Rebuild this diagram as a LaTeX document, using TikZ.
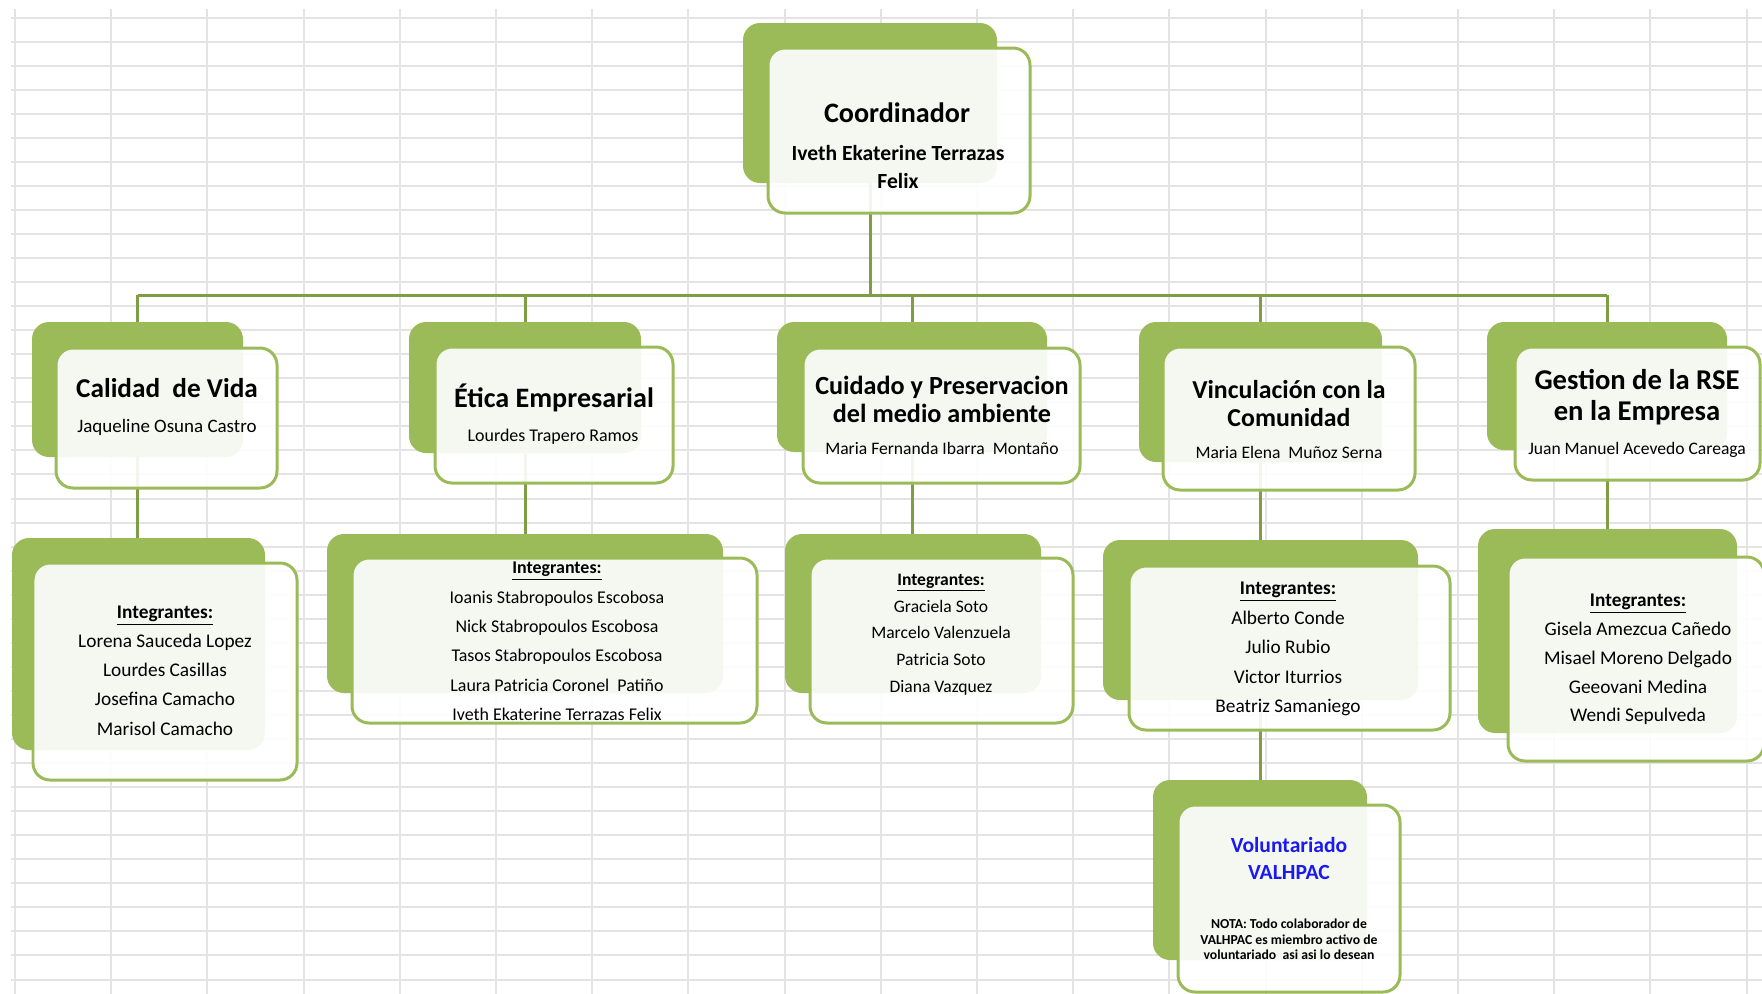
\documentclass[tikz,border=0pt]{standalone}
\usepackage{fontspec}
\setmainfont{Carlito}
\usetikzlibrary{fit}
\definecolor{bk}{HTML}{9BBB59}
\definecolor{cn}{HTML}{7E9D45}
\definecolor{gridc}{HTML}{E3E3E3}
\definecolor{vblue}{HTML}{1A1AF0}
\tikzset{
  gridline/.style={draw=gridc, line width=0.04cm},
  conn/.style={draw=cn, line width=0.06cm},
  backbox/.style={fill=bk, rounded corners=0.34cm, inner sep=0pt, draw=none},
  frontbox/.style={fill=white, fill opacity=0.91, draw=bk, line width=0.06cm, rounded corners=0.34cm, inner sep=0pt},
  txt/.style={align=center, inner sep=0pt, text=black},
}
\newcommand{\fs}[2]{\fontsize{#1}{#2}\selectfont}
\begin{document}
\begin{tikzpicture}[x=0.02cm, y=-0.02cm]
\useasboundingbox (0,0) rectangle (1762,994);
% grid
\foreach \i in {0,...,40} \draw[gridline] (11,17.5+24.05*\i) -- (1762,17.5+24.05*\i);
\foreach \i in {0,...,18} \draw[gridline] (15+96.2*\i,9) -- (15+96.2*\i,994);

\coordinate (bar) at (870,295);

% position frames (back boxes)
\node[inner sep=0pt, fit={(743,23) (997,183)}] (cbpos) {};
\node[inner sep=0pt, fit={(32,322) (243,457)}] (l2apos) {};
\node[inner sep=0pt, fit={(409,322) (641,453)}] (l2bpos) {};
\node[inner sep=0pt, fit={(777,322) (1047,452)}] (l2cpos) {};
\node[inner sep=0pt, fit={(1139,322) (1382,462)}] (l2dpos) {};
\node[inner sep=0pt, fit={(1487,322) (1727,450)}] (l2epos) {};
\node[inner sep=0pt, fit={(12,538) (265,750)}] (l3apos) {};
\node[inner sep=0pt, fit={(327,534) (723,693)}] (l3bpos) {};
\node[inner sep=0pt, fit={(785,534) (1041,693)}] (l3cpos) {};
\node[inner sep=0pt, fit={(1103,540) (1418,700)}] (l3dpos) {};
\node[inner sep=0pt, fit={(1478,529) (1737,733)}] (l3epos) {};
\node[inner sep=0pt, fit={(1153,780) (1367,960)}] (l4pos) {};

% connectors (drawn first, boxes on top)
\draw[conn] (cbpos.center) -- (cbpos.center |- bar);
\draw[conn] (bar -| l2apos.center) -- (bar -| l2epos.center);
\foreach \n in {l2apos,l2bpos,l2cpos,l2dpos,l2epos}
  \draw[conn] (bar -| \n.center) -- (\n.center);
\draw[conn] (l2apos.center) -- (l2apos.center |- l3apos.center);
\draw[conn] (l2bpos.center) -- (l2bpos.center |- l3bpos.center);
\draw[conn] (l2cpos.center) -- (l2cpos.center |- l3cpos.center);
\draw[conn] (l2dpos.center) -- (l2dpos.center |- l3dpos.center);
\draw[conn] (l2epos.center) -- (l2epos.center |- l3epos.center);
\draw[conn] (l3dpos.center) -- (l3dpos.center |- l4pos.center);

% back boxes
\node[backbox, fit={(743,23) (997,183)}] (cb) {};
\node[backbox, fit={(32,322) (243,457)}] (l2a) {};
\node[backbox, fit={(409,322) (641,453)}] (l2b) {};
\node[backbox, fit={(777,322) (1047,452)}] (l2c) {};
\node[backbox, fit={(1139,322) (1382,462)}] (l2d) {};
\node[backbox, fit={(1487,322) (1727,450)}] (l2e) {};
\node[backbox, fit={(12,538) (265,750)}] (l3a) {};
\node[backbox, fit={(327,534) (723,693)}] (l3b) {};
\node[backbox, fit={(785,534) (1041,693)}] (l3c) {};
\node[backbox, fit={(1103,540) (1418,700)}] (l3d) {};
\node[backbox, fit={(1478,529) (1737,733)}] (l3e) {};
\node[backbox, fit={(1153,780) (1367,960)}] (l4) {};

% front boxes
\node[frontbox, fit={(768,48) (1030,213)}] (cf) {};
\node[frontbox, fit={(56,348) (277,488)}] (f2a) {};
\node[frontbox, fit={(435,347) (673,483)}] (f2b) {};
\node[frontbox, fit={(803,348) (1080,483)}] (f2c) {};
\node[frontbox, fit={(1163,347) (1415,490)}] (f2d) {};
\node[frontbox, fit={(1515,347) (1760,480)}] (f2e) {};
\node[frontbox, fit={(33,563) (297,780)}] (f3a) {};
\node[frontbox, fit={(352,558) (757,723)}] (f3b) {};
\node[frontbox, fit={(810,558) (1073,723)}] (f3c) {};
\node[frontbox, fit={(1129,566) (1450,730)}] (f3d) {};
\node[frontbox, fit={(1508,557) (1764,761)}] (f3e) {};
\node[frontbox, fit={(1178,805) (1400,992)}] (f4) {};

% texts
\node[txt, font=\fs{16}{19}\bfseries] (tc) at (897,113) {Coordinador};
\node[txt, font=\fs{12.3}{15.4}\bfseries] (nc) at (898,167) {Iveth Ekaterine Terrazas\\Felix};

\node[txt, font=\fs{15.5}{18}\bfseries] (t2a) at (167,388) {Calidad\ \ de Vida};
\node[txt, font=\fs{10.8}{13}] (n2a) at (167,427) {Jaqueline Osuna Castro};

\node[txt, font=\fs{16}{19}\bfseries] (t2b) at (554,398) {Ética Empresarial};
\node[txt, font=\fs{10.2}{12}] (n2b) at (553,437) {Lourdes Trapero Ramos};

\node[txt, font=\fs{14.9}{15.9}\bfseries] (t2c) at (942,399) {Cuidado y Preservacion\\del medio ambiente};
\node[txt, font=\fs{10}{12}] (n2c) at (942,448) {Maria Fernanda Ibarra\ \ Montaño};

\node[txt, font=\fs{14.7}{15.4}\bfseries] (t2d) at (1289,403.5) {Vinculación con la\\Comunidad};
\node[txt, font=\fs{10}{12}] (n2d) at (1289,452) {Maria Elena\ \ Muñoz Serna};

\node[txt, font=\fs{16.3}{17.6}\bfseries] (t2e) at (1637,397.5) {Gestion de la RSE\\en la Empresa};
\node[txt, font=\fs{10}{12}] (n2e) at (1637,450) {Juan Manuel Acevedo Careaga};

\node[txt, font=\fs{11}{16.6}] (m3a) at (165,670.5) {\textbf{\underline{Integrantes:}}\\Lorena Sauceda Lopez\\Lourdes Casillas\\Josefina Camacho\\Marisol Camacho};
\node[txt, font=\fs{10.2}{16.7}] (m3b) at (557,641.5) {\textbf{\underline{Integrantes:}}\\Ioanis Stabropoulos Escobosa\\Nick Stabropoulos Escobosa\\Tasos Stabropoulos Escobosa\\Laura Patricia Coronel\ \ Patiño\\Iveth Ekaterine Terrazas Felix};
\node[txt, font=\fs{10}{15.2}] (m3c) at (941,634.5) {\textbf{\underline{Integrantes:}}\\Graciela Soto\\Marcelo Valenzuela\\Patricia Soto\\Diana Vazquez};
\node[txt, font=\fs{11}{16.8}] (m3d) at (1288,649) {\textbf{\underline{Integrantes:}}\\Alberto Conde\\Julio Rubio\\Victor Iturrios\\Beatriz Samaniego};
\node[txt, font=\fs{11}{16.4}] (m3e) at (1638,659.5) {\textbf{\underline{Integrantes:}}\\Gisela Amezcua Cañedo\\Misael Moreno Delgado\\Geeovani Medina\\Wendi Sepulveda};

\node[txt, font=\fs{12.3}{15.4}\bfseries, text=vblue] (t4) at (1289,858.5) {Voluntariado\\VALHPAC};
\node[txt, font=\fs{7.8}{8.8}\bfseries] (n4) at (1289,939.5) {NOTA: Todo colaborador de\\VALHPAC es miembro activo de\\voluntariado\ \ asi asi lo desean};
\end{tikzpicture}
\end{document}
